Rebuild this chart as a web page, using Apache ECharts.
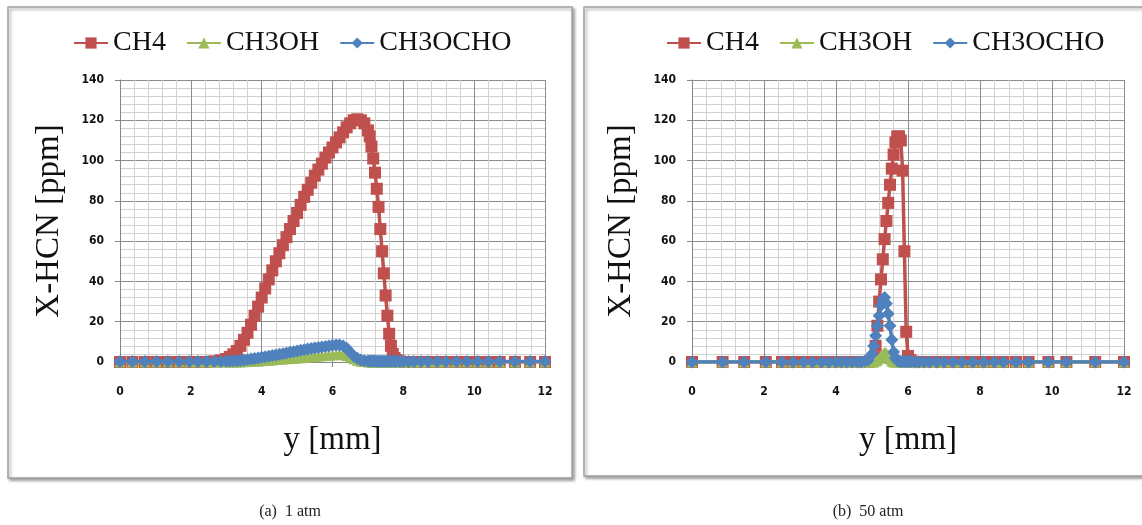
<!DOCTYPE html>
<html>
<head>
<meta charset="utf-8">
<script src="https://cdn.jsdelivr.net/npm/echarts@6/dist/echarts.min.js"></script>
<style>
html,body{margin:0;padding:0;background:#fff;}
#chart{width:1142px;height:525px;}
</style>
</head>
<body>
<div id="chart"></div>
<script>
// ---------- DATA ----------
var seriesNames = ['CH4', 'CH3OH', 'CH3OCHO'];
var xTicks = [0, 2, 4, 6, 8, 10, 12];
var yTicks = [0, 20, 40, 60, 80, 100, 120, 140];

// (a) 1 atm : mesh positions y [mm]
var xA = [0, 0.35, 0.7, 1.03, 1.35, 1.67, 1.96, 2.2, 2.44, 2.66, 2.85, 3.0,
  3.1, 3.2, 3.3, 3.4, 3.5, 3.6, 3.7, 3.8, 3.9, 4.0,
  4.1, 4.2, 4.3, 4.4, 4.5, 4.6, 4.7, 4.8, 4.9, 5.0,
  5.1, 5.2, 5.3, 5.4, 5.5, 5.6, 5.7, 5.8, 5.9, 6.0,
  6.1, 6.2, 6.3, 6.4, 6.5, 6.6, 6.7, 6.8, 6.9, 7.0,
  7.05, 7.1, 7.15, 7.2, 7.25, 7.3, 7.35, 7.4, 7.45, 7.5, 7.55, 7.6, 7.65, 7.7, 7.75, 7.8,
  7.9, 8.0, 8.15, 8.3, 8.5, 8.7, 8.95, 9.2, 9.5, 9.8, 10.1, 10.4, 10.72, 11.15, 11.58, 12.0];
var ch4A = [0, 0, 0, 0, 0, 0, 0, 0, 0, 0.3, 0.8, 1.5,
  2.5, 3.8, 5.5, 8, 11, 14.5, 18.5, 23, 27.5, 32,
  36.5, 41, 45.5, 50, 54, 58, 62, 66, 70, 74,
  78, 82, 85.5, 89, 92.5, 95.5, 98.5, 101.5, 104, 106.5,
  109, 111.5, 114, 116.5, 118.5, 120, 120.5, 120, 118.5, 115,
  112, 107, 101, 94, 86, 77, 66, 55, 44, 33, 23, 14, 8, 4, 2, 1,
  0.3, 0, 0, 0, 0, 0, 0, 0, 0, 0, 0, 0, 0, 0, 0, 0];
var ch3ohA = [0, 0, 0, 0, 0, 0, 0, 0, 0, 0, 0, 0,
  0, 0, 0, 0, 0.1, 0.2, 0.3, 0.4, 0.5, 0.6,
  0.75, 0.9, 1.05, 1.2, 1.35, 1.5, 1.65, 1.8, 1.9, 2.0,
  2.15, 2.3, 2.45, 2.6, 2.8, 2.95, 3.1, 3.25, 3.4, 3.5,
  3.7, 3.8, 3.6, 3.2, 2.5, 1.6, 0.9, 0.4, 0.2, 0.1,
  0.05, 0, 0, 0, 0, 0, 0, 0, 0, 0, 0, 0, 0, 0, 0, 0,
  0, 0, 0, 0, 0, 0, 0, 0, 0, 0, 0, 0, 0, 0, 0, 0];
var ch3ochoA = [0.2, 0.2, 0.2, 0.2, 0.2, 0.2, 0.2, 0.2, 0.2, 0.25, 0.3, 0.4,
  0.45, 0.55, 0.65, 0.8, 1.0, 1.2, 1.45, 1.7, 2.0, 2.3,
  2.6, 2.9, 3.2, 3.5, 3.8, 4.15, 4.5, 4.8, 5.15, 5.5,
  5.8, 6.1, 6.4, 6.7, 7.0, 7.25, 7.5, 7.75, 8.0, 8.3,
  8.45, 8.5, 8.0, 6.8, 4.8, 3.0, 1.8, 1.0, 0.6, 0.5,
  0.5, 0.45, 0.45, 0.45, 0.4, 0.4, 0.4, 0.4, 0.4, 0.4, 0.35, 0.35, 0.35, 0.35, 0.35, 0.35,
  0.3, 0.3, 0.3, 0.3, 0.3, 0.3, 0.3, 0.3, 0.3, 0.3, 0.3, 0.3, 0.3, 0.3, 0.3, 0.3];

// (b) 50 atm : mesh positions y [mm]
var xB = [0, 0.85, 1.45, 2.05, 2.5, 2.8, 3.1, 3.35, 3.6, 3.8, 4.0, 4.15, 4.3, 4.45, 4.6, 4.7, 4.8, 4.9, 5.0,
  5.05, 5.1, 5.15, 5.2, 5.25, 5.3, 5.35, 5.4, 5.45, 5.5, 5.55, 5.6, 5.65, 5.7, 5.75, 5.8, 5.85, 5.9, 5.95, 6.0, 6.05, 6.1,
  6.2, 6.3, 6.45, 6.6, 6.8, 7.0, 7.25, 7.5, 7.8, 8.1, 8.4, 8.65, 9.0, 9.35, 9.9, 10.4, 11.2, 12.0];
var ch4B = [0, 0, 0, 0, 0, 0, 0, 0, 0, 0, 0, 0, 0, 0, 0, 0, 0, 0, 0.5,
  2, 8, 18, 30, 41, 51, 61, 70, 79, 88, 96, 103, 109, 112, 112, 110, 95, 55, 15, 3, 1, 0.3,
  0, 0, 0, 0, 0, 0, 0, 0, 0, 0, 0, 0, 0, 0, 0, 0, 0, 0];
var ch3ohB = [0, 0, 0, 0, 0, 0, 0, 0, 0, 0, 0, 0, 0, 0, 0, 0, 0, 0, 0,
  0, 0.5, 1, 1.8, 2.8, 4, 5, 4.5, 3, 1.5, 0.5, 0, 0, 0, 0, 0, 0, 0, 0, 0, 0, 0,
  0, 0, 0, 0, 0, 0, 0, 0, 0, 0, 0, 0, 0, 0, 0, 0, 0, 0];
var ch3ochoB = [0, 0, 0, 0, 0, 0, 0, 0, 0, 0, 0, 0, 0, 0, 0, 0, 0.5, 1, 4,
  8, 13, 18, 23, 28, 31, 32, 29, 24, 18, 11, 5, 2, 0.8, 0.4, 0.3, 0.3, 0.3, 0.2, 0.2, 0.2, 0.2,
  0, 0, 0, 0, 0, 0, 0, 0, 0, 0, 0, 0, 0, 0, 0, 0, 0, 0];

// ---------- CHART ----------
var colors = ['#C0504D', '#9BBB59', '#4F81BD'];
var symbols = ['rect', 'triangle', 'diamond'];
var symbolSizes = [12, 11, 13];

function pairs(xs, ys) { return xs.map(function (x, i) { return [x, ys[i]]; }); }

var tickFont = { fontFamily: '"DejaVu Sans Condensed", "DejaVu Sans", sans-serif', fontWeight: 'bold', fontSize: 12, color: '#111' };
var titleFont = { fontFamily: '"Liberation Serif", serif', fontSize: 33, color: '#111' };

function makeX(gi) {
  return {
    gridIndex: gi, type: 'value', min: xTicks[0], max: xTicks[xTicks.length - 1], interval: 2,
    axisLine: { show: true, onZero: false, lineStyle: { color: '#868686' } },
    axisTick: { show: true, length: 5, lineStyle: { color: '#868686' } },
    axisLabel: Object.assign({ margin: 24 }, tickFont),
    splitLine: { show: true, lineStyle: { color: '#8c8c8c', width: 1 } },
    minorTick: { show: false, splitNumber: 5 },
    minorSplitLine: { show: true, lineStyle: { color: '#d2d2d2', width: 1 } },
    name: 'y [mm]', nameLocation: 'middle', nameGap: 62, nameTextStyle: titleFont
  };
}
function makeY(gi) {
  return {
    gridIndex: gi, type: 'value', min: yTicks[0], max: yTicks[yTicks.length - 1], interval: 20,
    axisLine: { show: true, lineStyle: { color: '#868686' } },
    axisTick: { show: true, length: 5, lineStyle: { color: '#868686' } },
    axisLabel: Object.assign({ margin: 16 }, tickFont),
    splitLine: { show: true, lineStyle: { color: '#8c8c8c', width: 1 } },
    minorTick: { show: false, splitNumber: 5 },
    minorSplitLine: { show: true, lineStyle: { color: '#d2d2d2', width: 1 } },
    name: 'X-HCN [ppm]', nameLocation: 'middle', nameGap: 54, nameTextStyle: titleFont
  };
}

var dataSets = [
  [pairs(xA, ch4A), pairs(xA, ch3ohA), pairs(xA, ch3ochoA)],
  [pairs(xB, ch4B), pairs(xB, ch3ohB), pairs(xB, ch3ochoB)]
];

var series = [];
[0, 1].forEach(function (gi) {
  seriesNames.forEach(function (n, k) {
    series.push({
      name: n, type: 'line', xAxisIndex: gi, yAxisIndex: gi,
      data: dataSets[gi][k],
      symbol: symbols[k], symbolSize: symbolSizes[k], showSymbol: true,
      itemStyle: { color: colors[k] },
      lineStyle: { color: colors[k], width: 3.5 },
      emphasis: { disabled: true },
      z: 2 + k
    });
  });
});

var legendText = { fontFamily: '"Liberation Serif", serif', fontSize: 28, color: '#111' };

var option = {
  animation: false,
  backgroundColor: '#fff',
  grid: [
    { left: 120, top: 80, width: 425, height: 282 },
    { left: 692, top: 80, width: 432, height: 282 }
  ],
  legend: [
    { data: seriesNames, left: 68, top: 24, itemWidth: 34, itemHeight: 14, itemGap: 20, textStyle: legendText, selectedMode: false },
    { data: seriesNames, left: 661, top: 24, itemWidth: 34, itemHeight: 14, itemGap: 20, textStyle: legendText, selectedMode: false }
  ],
  xAxis: [makeX(0), makeX(1)],
  yAxis: [makeY(0), makeY(1)],
  series: series,
  graphic: [
    { type: 'rect', z: -10, shape: { x: 8, y: 7, width: 564, height: 471 },
      style: { fill: '#fff', stroke: '#a0a0a0', lineWidth: 1.5, shadowBlur: 3, shadowOffsetX: 2, shadowOffsetY: 2, shadowColor: 'rgba(0,0,0,0.35)' } },
    { type: 'rect', z: -10, shape: { x: 584, y: 7, width: 572, height: 469 },
      style: { fill: '#fff', stroke: '#a0a0a0', lineWidth: 1.5, shadowBlur: 3, shadowOffsetX: 2, shadowOffsetY: 2, shadowColor: 'rgba(0,0,0,0.35)' } },
    { type: 'text', x: 290, y: 512, style: { text: '(a)  1 atm', fontFamily: '"Liberation Serif", serif', fontSize: 16, fill: '#222', align: 'center', verticalAlign: 'middle' } },
    { type: 'text', x: 868, y: 512, style: { text: '(b)  50 atm', fontFamily: '"Liberation Serif", serif', fontSize: 16, fill: '#222', align: 'center', verticalAlign: 'middle' } }
  ]
};

var chart = echarts.init(document.getElementById('chart'), null, { renderer: 'canvas' });
chart.setOption(option);
</script>
</body>
</html>
